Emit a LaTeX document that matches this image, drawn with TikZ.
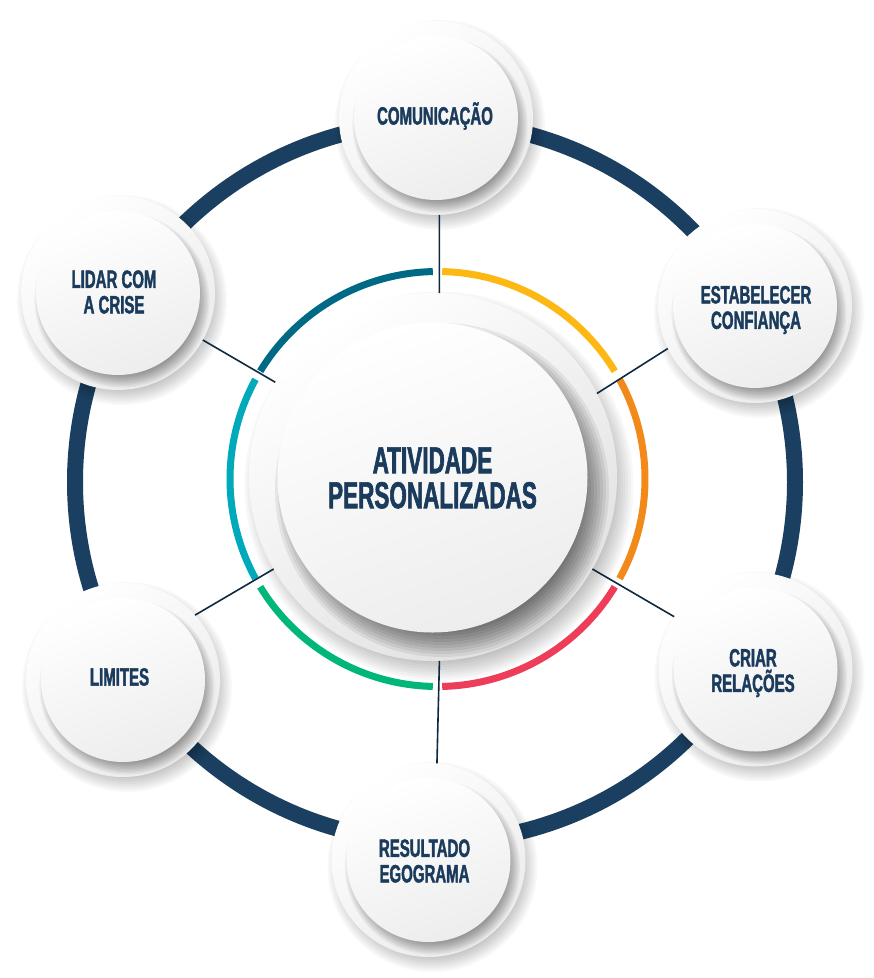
\documentclass[tikz,border=0pt]{standalone}
\usepackage{fontspec}
\newfontfamily\condf[FakeStretch=0.6,FakeBold=1.6]{Liberation Sans}
\usetikzlibrary{calc}
\definecolor{navy}{HTML}{1B3F60}
\definecolor{txtnavy}{HTML}{1A3B5C}
\definecolor{linec}{HTML}{0F2A40}
\definecolor{cteal}{HTML}{006A86}
\definecolor{ccyan}{HTML}{00AABB}
\definecolor{cgreen}{HTML}{00B67A}
\definecolor{cred}{HTML}{EE3D58}
\definecolor{corange}{HTML}{F28A1B}
\definecolor{cyellow}{HTML}{FDB813}
\newcommand\mysoftshadow[5]{%
  \foreach \k in {0,...,9}{\fill[black,opacity=#5] (#1,#2) circle ({#3-#4+\k*#4/5});}}
\tikzset{
  satout/.style={circle,inner sep=0pt,outer sep=0pt,minimum size=194pt,draw=none,
    top color=white,bottom color=black!8,shading angle=35},
  satin/.style={circle,inner sep=0pt,outer sep=0pt,minimum size=164pt,draw=none,
    top color=white,bottom color=black!7,shading angle=20},
  cenout/.style={circle,inner sep=0pt,outer sep=0pt,minimum size=368pt,draw=none,
    top color=white,bottom color=black!12,shading angle=35},
  cenin/.style={circle,inner sep=0pt,outer sep=0pt,minimum size=310pt,draw=none,
    top color=white,bottom color=black!7,shading angle=20},
  lbl/.style={align=center,text=txtnavy,inner sep=0pt,font=\condf\bfseries\fontsize{25}{25.5}\selectfont},
  cenlbl/.style={align=center,text=txtnavy,inner sep=0pt,font=\condf\bfseries\fontsize{37.5}{35}\selectfont},
  conn/.style={draw=linec,line width=1.6pt},
  seg/.style={line width=7pt}
}
\newcommand\satnode[3]{%
  \mysoftshadow{#2+4}{#3+7}{97}{10}{0.028}
  \node[satout] (#1) at (#2,#3) {};
  \begin{scope}
    \clip (#2,#3) circle (97);
    \mysoftshadow{#2+4}{#3+7}{82}{7}{0.045}
  \end{scope}
  \node[satin] (#1in) at (#2,#3) {};
}
\begin{document}
\begin{tikzpicture}[x=1pt,y=-1pt]
\useasboundingbox (0,0) rectangle (874,978);
\fill[white] (0,0) rectangle (874,978);
% outer dark ring
\draw[navy,line width=16pt] (435,482) circle (360);
% central disk
\mysoftshadow{439}{486}{184}{13}{0.03}
\node[cenout] (cen) at (433,477) {};
\begin{scope}
  \clip (433,477) circle (184);
  \mysoftshadow{442}{490}{155}{15}{0.065}
\end{scope}
\node[cenin] (cenin) at (432.5,477.5) {};
% coloured ring segments
\def\rr{207.5}
\foreach \a/\b/\c in {31.3/88.7/cyellow,91.3/148.7/cteal,151.3/208.7/ccyan,211.3/268.7/cgreen,271.3/328.7/cred,331.3/388.7/corange}{
  \draw[seg,\c] ([shift={(-\a:\rr)}]437.5,479) arc[start angle=-\a,end angle=-\b,radius=\rr];
}
% satellites
\satnode{com}{436}{118}
\satnode{est}{755}{306}
\satnode{cri}{755.5}{669.5}
\satnode{res}{428.5}{860}
\satnode{lim}{123}{680}
\satnode{lid}{118}{293}
% connectors
\draw[conn] (cen.88) -- (com.-88);
\draw[conn] (cen.27.7) -- (est.206.8);
\draw[conn] (cen.-30.3) -- (cri.147.6);
\draw[conn] (cen.-88.8) -- (res.85.3);
\draw[conn] (cen.210.9) -- (lim.42);
\draw[conn] (cen.149) -- (lid.-29);
% labels
\node[cenlbl] (centxt) at (432.5,478) {ATIVIDADE\\PERSONALIZADAS};
\node[lbl] (comtxt) at (435,116) {COMUNICAÇÃO};
\node[lbl] (esttxt) at (756,310) {ESTABELECER\\CONFIANÇA};
\node[lbl] (critxt) at (753,673) {CRIAR\\RELAÇÕES};
\node[lbl] (restxt) at (424.5,861) {RESULTADO\\EGOGRAMA};
\node[lbl] (limtxt) at (119.5,677) {LIMITES};
\node[lbl] (lidtxt) at (114,292) {LIDAR COM\\A CRISE};
\end{tikzpicture}
\end{document}
